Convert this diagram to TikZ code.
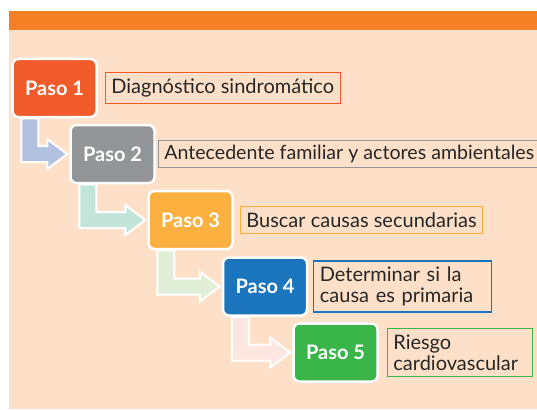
\documentclass[tikz,border=0pt]{standalone}
\usepackage{fontspec}
\setmainfont{Lato}
\usetikzlibrary{positioning,calc}

\definecolor{barorange}{HTML}{F58025}
\definecolor{peach}{HTML}{FDE0C7}
\definecolor{pasoA}{HTML}{F15A29}
\definecolor{pasoB}{HTML}{939598}
\definecolor{pasoC}{HTML}{FBB040}
\definecolor{pasoD}{HTML}{1B75BC}
\definecolor{pasoE}{HTML}{39B54A}
\definecolor{flechaA}{HTML}{B3C1E0}
\definecolor{flechaB}{HTML}{C3E4D9}
\definecolor{flechaC}{HTML}{E1EFD8}
\definecolor{flechaD}{HTML}{FBE6E0}

% bent block arrow from below one step into the next one
\newcommand{\flecha}[3]{%
  \draw[draw=white, line width=2pt, fill=#3]
    let \p1=(#1.south west), \p2=(#2.west) in
    (\x1+10,\y1) -- (\x1+27,\y1) -- (\x1+27,\y2+8) -- (\x2-22,\y2+8)
    -- (\x2-22,\y2+15) -- (\x2-2,\y2) -- (\x2-22,\y2-15) -- (\x2-22,\y2-8)
    -- (\x1+10,\y2-8) -- cycle;}

\begin{document}
\begin{tikzpicture}[x=1pt, y=-1pt,
    paso/.style={draw=white, line width=2.5pt, rounded corners=6pt,
      minimum width=84pt, minimum height=58pt, text=white,
      font=\fontsize{20}{21}\selectfont\bfseries},
    caja/.style={draw=#1, line width=1.2pt, fill=peach, text=black!85,
      inner xsep=6pt, inner ysep=6pt, align=left,
      font=\fontsize{20}{21}\selectfont}]
  \useasboundingbox (0,0) rectangle (537,409);
  \clip (0,0) rectangle (537,409);
  \fill[peach] (9,30) rectangle (537,409);
  \fill[barorange] (9,11) rectangle (537,30);

  \node[paso, fill=pasoA] (p1) at (54.5, 88) {Paso 1};
  \node[paso, fill=pasoB] (p2) at (112.5, 154) {Paso 2};
  \node[paso, fill=pasoC] (p3) at (190.5, 220) {Paso 3};
  \node[paso, fill=pasoD] (p4) at (265, 286.5) {Paso 4};
  \node[paso, fill=pasoE] (p5) at (335.5, 352.5) {Paso 5};

  \node[caja=pasoA, right=7pt of p1] (d1) {Diagnóstico sindromático};
  \node[caja=pasoB, right=2pt of p2, inner ysep=5pt, minimum width=400pt,
    font=\fontsize{19.6}{21}\selectfont] (d2) {Antecedente familiar y actores ambientales\hspace{30pt}};
  \node[caja=pasoC, right=6pt of p3] (d3) {Buscar causas secundarias};
  \node[caja=pasoD, right=5pt of p4, text width=166pt] (d4) {Determinar si la\\causa es primaria};
  \node[caja=pasoE, right=8pt of p5, text width=133pt] (d5) {Riesgo\\cardiovascular};

  \flecha{p1}{p2}{flechaA}
  \flecha{p2}{p3}{flechaB}
  \flecha{p3}{p4}{flechaC}
  \flecha{p4}{p5}{flechaD}
\end{tikzpicture}
\end{document}
